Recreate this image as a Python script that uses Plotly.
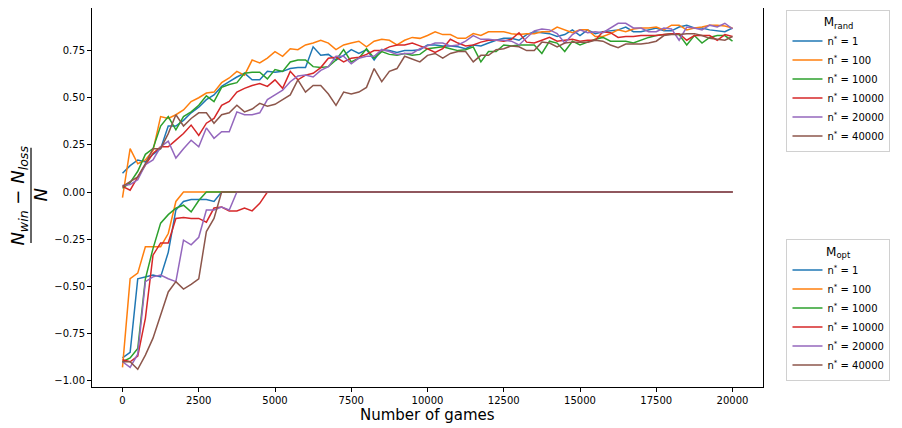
import plotly.graph_objects as go

games = list(range(0, 20001, 250))
n_star = ["1", "100", "1000", "10000", "20000", "40000"]
colors = ["#1f77b4", "#ff7f0e", "#2ca02c", "#d62728", "#9467bd", "#8c564b"]

# M_rand curves
rand_1 = [0.10, 0.14, 0.17, 0.16, 0.20, 0.23, 0.35, 0.35, 0.38, 0.42, 0.45, 0.49, 0.515, 0.56,
          0.585, 0.61, 0.63, 0.595, 0.595, 0.64, 0.635, 0.64, 0.655, 0.66, 0.66, 0.77, 0.725, 0.73, 0.70, 0.725, 0.755, 0.735,
          0.755, 0.70, 0.755, 0.75, 0.74, 0.75, 0.75, 0.755, 0.78, 0.78, 0.775, 0.775, 0.77, 0.76, 0.78, 0.775, 0.79,
          0.805, 0.815, 0.815, 0.805, 0.835, 0.85, 0.845, 0.84,
          0.825, 0.835, 0.86, 0.83, 0.86, 0.84, 0.85, 0.855, 0.86, 0.875, 0.85, 0.85, 0.86, 0.87, 0.855, 0.855,
          0.875, 0.885, 0.87, 0.87, 0.86, 0.855, 0.85, 0.87]
rand_100 = [-0.03, 0.23, 0.15, 0.17, 0.22, 0.40, 0.39, 0.41, 0.435, 0.48, 0.50, 0.525, 0.53, 0.58,
            0.605, 0.64, 0.62, 0.70, 0.685, 0.71, 0.745, 0.72, 0.76, 0.755, 0.78, 0.79, 0.805, 0.79, 0.755, 0.78, 0.79, 0.80,
            0.77, 0.80, 0.81, 0.805, 0.78, 0.805, 0.82, 0.815, 0.83, 0.85, 0.835, 0.835, 0.815, 0.815, 0.84, 0.83, 0.85,
            0.85, 0.85, 0.84, 0.835, 0.84, 0.84, 0.85, 0.85,
            0.875, 0.86, 0.845, 0.86, 0.86, 0.825, 0.825, 0.84, 0.86, 0.85, 0.865, 0.87, 0.87, 0.875, 0.86, 0.885,
            0.885, 0.86, 0.87, 0.875, 0.885, 0.885, 0.88, 0.87]
rand_1000 = [0.02, 0.05, 0.11, 0.20, 0.23, 0.35, 0.40, 0.33, 0.40, 0.425, 0.46, 0.51, 0.48, 0.555,
             0.57, 0.58, 0.63, 0.635, 0.635, 0.60, 0.65, 0.64, 0.69, 0.70, 0.70, 0.665, 0.66, 0.665, 0.70, 0.755, 0.69, 0.71,
             0.76, 0.71, 0.745, 0.73, 0.725, 0.735, 0.725, 0.73, 0.76, 0.765, 0.77, 0.76, 0.75, 0.755, 0.77, 0.69, 0.745,
             0.745, 0.78, 0.775, 0.78, 0.78, 0.78, 0.735, 0.80,
             0.79, 0.745, 0.80, 0.78, 0.795, 0.81, 0.82, 0.80, 0.80, 0.80, 0.79, 0.805, 0.82, 0.83, 0.835, 0.84,
             0.835, 0.78, 0.83, 0.79, 0.82, 0.83, 0.83, 0.80]
rand_10000 = [0.03, 0.01, 0.08, 0.145, 0.205, 0.24, 0.24, 0.275, 0.31, 0.355, 0.30, 0.365, 0.39, 0.46,
              0.48, 0.53, 0.55, 0.565, 0.575, 0.56, 0.595, 0.55, 0.64, 0.595, 0.62, 0.63, 0.66, 0.71, 0.715, 0.69, 0.71, 0.715,
              0.73, 0.75, 0.75, 0.77, 0.78, 0.78, 0.79, 0.775, 0.76, 0.74, 0.76, 0.81, 0.79, 0.775, 0.78, 0.795, 0.805,
              0.805, 0.80, 0.81, 0.845, 0.795, 0.79, 0.805, 0.82,
              0.80, 0.805, 0.81, 0.80, 0.805, 0.805, 0.85, 0.845, 0.82, 0.825, 0.825, 0.83, 0.83, 0.83, 0.835, 0.84,
              0.84, 0.805, 0.83, 0.83, 0.83, 0.805, 0.835, 0.825]
rand_20000 = [0.035, 0.04, 0.065, 0.145, 0.17, 0.24, 0.27, 0.18, 0.23, 0.275, 0.24, 0.34, 0.285, 0.32,
              0.32, 0.425, 0.41, 0.41, 0.42, 0.49, 0.515, 0.54, 0.585, 0.615, 0.62, 0.61, 0.645, 0.665, 0.72, 0.72, 0.68, 0.71,
              0.72, 0.72, 0.755, 0.745, 0.73, 0.735, 0.735, 0.76, 0.775, 0.79, 0.79, 0.775, 0.78, 0.80, 0.83, 0.81, 0.81,
              0.805, 0.805, 0.80, 0.78, 0.815, 0.855, 0.865, 0.86,
              0.84, 0.79, 0.835, 0.86, 0.845, 0.85, 0.845, 0.87, 0.895, 0.895, 0.87, 0.87, 0.85, 0.85, 0.87, 0.865,
              0.805, 0.875, 0.87, 0.86, 0.885, 0.875, 0.895, 0.865]
rand_40000 = [0.03, 0.055, 0.08, 0.15, 0.23, 0.23, 0.31, 0.41, 0.35, 0.39, 0.42, 0.42, 0.365, 0.41,
              0.42, 0.46, 0.425, 0.44, 0.47, 0.455, 0.465, 0.49, 0.515, 0.595, 0.53, 0.565, 0.565, 0.52, 0.46, 0.53, 0.52, 0.53,
              0.555, 0.655, 0.585, 0.64, 0.655, 0.72, 0.705, 0.69, 0.725, 0.735, 0.71, 0.735, 0.745, 0.745, 0.69, 0.725, 0.725,
              0.755, 0.76, 0.775, 0.77, 0.75, 0.75, 0.795, 0.79,
              0.77, 0.79, 0.795, 0.795, 0.795, 0.805, 0.80, 0.78, 0.765, 0.785, 0.785, 0.785, 0.79, 0.80, 0.83, 0.835,
              0.835, 0.84, 0.84, 0.83, 0.815, 0.81, 0.805, 0.825]

# M_opt curves
opt_1 = [-0.88, -0.85, -0.46, -0.45, -0.44, -0.45, -0.32, -0.095, -0.05, -0.04, -0.04, -0.04, -0.05,
         0, 0, 0, 0, 0, 0, 0, 0, 0, 0,
         0, 0, 0, 0, 0, 0, 0, 0, 0, 0,
         0, 0, 0, 0, 0, 0, 0, 0, 0, 0,
         0, 0, 0, 0, 0, 0, 0, 0, 0, 0,
         0, 0, 0, 0, 0, 0, 0, 0, 0, 0,
         0, 0, 0, 0, 0, 0, 0, 0, 0, 0,
         0, 0, 0, 0, 0, 0, 0, 0]
opt_100 = [-0.93, -0.46, -0.43, -0.29, -0.29, -0.29, -0.22, -0.05,
           0, 0, 0, 0, 0, 0, 0, 0, 0, 0,
           0, 0, 0, 0, 0, 0, 0, 0, 0, 0,
           0, 0, 0, 0, 0, 0, 0, 0, 0, 0,
           0, 0, 0, 0, 0, 0, 0, 0, 0, 0,
           0, 0, 0, 0, 0, 0, 0, 0, 0, 0,
           0, 0, 0, 0, 0, 0, 0, 0, 0, 0,
           0, 0, 0, 0, 0, 0, 0, 0, 0, 0,
           0, 0, 0]
opt_1000 = [-0.90, -0.88, -0.83, -0.46, -0.30, -0.165, -0.12, -0.085, -0.07, -0.105, -0.045,
            0, 0, 0, 0, 0, 0, 0, 0, 0, 0,
            0, 0, 0, 0, 0, 0, 0, 0, 0, 0,
            0, 0, 0, 0, 0, 0, 0, 0, 0, 0,
            0, 0, 0, 0, 0, 0, 0, 0, 0, 0,
            0, 0, 0, 0, 0, 0, 0, 0, 0, 0,
            0, 0, 0, 0, 0, 0, 0, 0, 0, 0,
            0, 0, 0, 0, 0, 0, 0, 0, 0, 0]
opt_10000 = [-0.89, -0.90, -0.87, -0.67, -0.335, -0.27, -0.27, -0.14, -0.135, -0.14, -0.14, -0.16,
             -0.085, -0.08, -0.10, -0.10, -0.085, -0.10, -0.06,
             0, 0, 0, 0, 0, 0, 0, 0, 0, 0,
             0, 0, 0, 0, 0, 0, 0, 0, 0, 0,
             0, 0, 0, 0, 0, 0, 0, 0, 0, 0,
             0, 0, 0, 0, 0, 0, 0, 0, 0, 0,
             0, 0, 0, 0, 0, 0, 0, 0, 0, 0,
             0, 0, 0, 0, 0, 0, 0, 0, 0, 0,
             0, 0]
opt_20000 = [-0.90, -0.93, -0.86, -0.475, -0.45, -0.44, -0.46, -0.475, -0.255, -0.28, -0.24, -0.095,
             -0.095, -0.08, -0.095,
             0, 0, 0, 0, 0, 0, 0, 0, 0, 0,
             0, 0, 0, 0, 0, 0, 0, 0, 0, 0,
             0, 0, 0, 0, 0, 0, 0, 0, 0, 0,
             0, 0, 0, 0, 0, 0, 0, 0, 0, 0,
             0, 0, 0, 0, 0, 0, 0, 0, 0, 0,
             0, 0, 0, 0, 0, 0, 0, 0, 0, 0,
             0, 0, 0, 0, 0, 0]
opt_40000 = [-0.90, -0.90, -0.94, -0.865, -0.775, -0.65, -0.53, -0.475, -0.515, -0.49, -0.46, -0.21, -0.14,
             0, 0, 0, 0, 0, 0, 0, 0, 0, 0,
             0, 0, 0, 0, 0, 0, 0, 0, 0, 0,
             0, 0, 0, 0, 0, 0, 0, 0, 0, 0,
             0, 0, 0, 0, 0, 0, 0, 0, 0, 0,
             0, 0, 0, 0, 0, 0, 0, 0, 0, 0,
             0, 0, 0, 0, 0, 0, 0, 0, 0, 0,
             0, 0, 0, 0, 0, 0, 0, 0]

rand_series = [rand_1, rand_100, rand_1000, rand_10000, rand_20000, rand_40000]
opt_series = [opt_1, opt_100, opt_1000, opt_10000, opt_20000, opt_40000]

fig = go.Figure()
for ys, n, c in zip(rand_series, n_star, colors):
    fig.add_trace(go.Scatter(x=games[:len(ys)], y=ys, mode="lines", name="n<sup>*</sup> = " + n,
                             line=dict(color=c, width=1.5), legend="legend"))
for ys, n, c in zip(opt_series, n_star, colors):
    fig.add_trace(go.Scatter(x=games[:len(ys)], y=ys, mode="lines", name="n<sup>*</sup> = " + n,
                             line=dict(color=c, width=1.5), legend="legend2"))

axis_style = dict(showline=True, linecolor="black", linewidth=1, mirror=True, ticks="outside",
                  ticklen=4, tickwidth=1, tickcolor="black", showgrid=False, zeroline=False,
                  tickfont=dict(family="DejaVu Sans", size=10, color="black"))

fig.update_xaxes(range=[-1000, 21000], tickvals=list(range(0, 20001, 2500)), tickformat="d", **axis_style)
fig.update_yaxes(range=[-1.034, 0.976], tickvals=[-1, -0.75, -0.5, -0.25, 0, 0.25, 0.5, 0.75],
                 tickformat=".2f", **axis_style)

legend_style = dict(xanchor="left", yanchor="top", bordercolor="#d0d0d0", borderwidth=1,
                    bgcolor="white", font=dict(family="DejaVu Sans", size=10, color="black"),
                    tracegroupgap=0)

# x label
fig.add_annotation(text="Number of games", xref="paper", yref="paper", x=0.5, y=-0.0735,
                   xanchor="center", yanchor="middle", showarrow=False,
                   font=dict(family="DejaVu Sans", size=15, color="black"))

# y label drawn as a fraction
lab_font = dict(family="DejaVu Sans", size=18, color="black", style="italic")
fig.add_annotation(text="N<sub>win</sub> − N<sub>loss</sub>", xref="paper", yref="paper",
                   x=-0.1088, y=0.505, xanchor="center", yanchor="middle", textangle=-90,
                   showarrow=False, font=lab_font)
fig.add_annotation(text="N", xref="paper", yref="paper", x=-0.076, y=0.505,
                   xanchor="center", yanchor="middle", textangle=-90, showarrow=False, font=lab_font)
fig.add_shape(type="line", xref="paper", yref="paper", x0=-0.0909, x1=-0.0909,
              y0=0.380, y1=0.631, line=dict(color="black", width=1.2))

fig.update_layout(
    width=894, height=420,
    margin=dict(l=84, r=139, t=0, b=41, autoexpand=False),
    paper_bgcolor="white", plot_bgcolor="white",
    font=dict(family="DejaVu Sans"),
    legend=dict(x=1.035, y=0.995, title=dict(text="M<sub>rand</sub>", side="top center"), **legend_style),
    legend2=dict(x=1.035, y=0.3905, title=dict(text="M<sub>opt</sub>", side="top center"), **legend_style),
)

fig.write_html("out.html")
